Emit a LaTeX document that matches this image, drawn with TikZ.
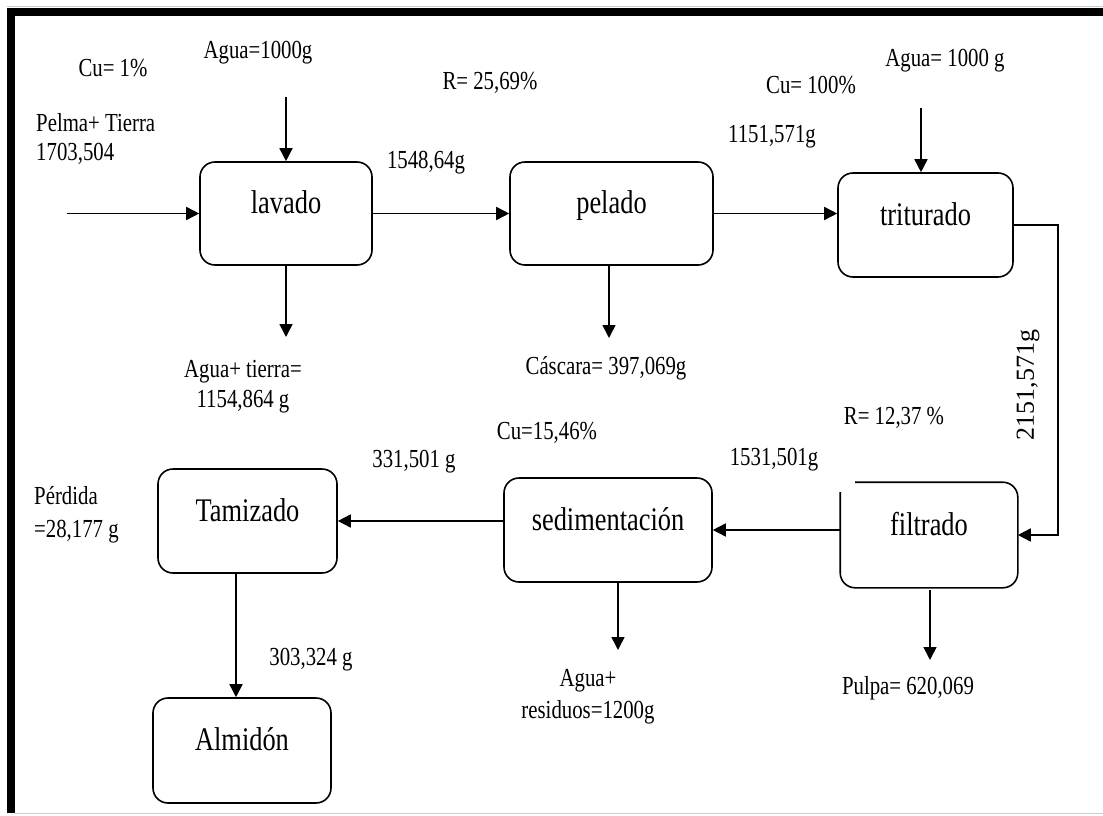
\documentclass[tikz,border=0pt]{standalone}
\usepackage{fontspec}
\usetikzlibrary{arrows.meta}
\newfontfamily\lblfont[FakeStretch=0.8]{Liberation Serif}
\newfontfamily\rotfont{Liberation Serif}
\begin{document}
\begin{tikzpicture}[x=1pt,y=-1pt,
  box/.style={draw, line width=1.6pt, rounded corners=15pt, font=\lblfont\fontsize{33}{36}\selectfont,
     text height=12pt, text depth=12pt, inner sep=0pt},
  lbl/.style={font=\lblfont\fontsize{26}{29}\selectfont, inner sep=0pt},
  arr/.style={-{Triangle[length=13pt,width=13pt]}, line width=1.6pt},
  ln/.style={line width=1.6pt}]
\useasboundingbox (0,0) rectangle (1103,816);
% frame
\fill[black] (7,8) rectangle (1103,16);
\fill[black] (7,8) rectangle (15,813);
\draw[gray!40, line width=1pt] (7,7) -- (1103,7);
\draw[gray!40, line width=1pt] (15,813) -- (1103,813);
% boxes
\node[box, minimum width=172pt, minimum height=103pt] (lav) at (286,213.5) {lavado};
\node[box, minimum width=203pt, minimum height=103pt] (pel) at (611.5,213.5) {pelado};
\node[box, minimum width=175pt, minimum height=104pt] (tri) at (925.5,225) {triturado};
\node[box, draw=none, minimum width=176pt, minimum height=104pt] (fil) at (929,535) {filtrado};
\draw[ln, rounded corners=15pt] ([xshift=15pt]fil.north west) -- (fil.north east) -- (fil.south east) -- (fil.south west) -- ([yshift=-10pt]fil.north west);
\node[box, minimum width=208pt, minimum height=104pt] (sed) at (608,530) {sedimentación};
\node[box, minimum width=179pt, minimum height=104pt] (tam) at (247.5,521) {Tamizado};
\node[box, minimum width=178pt, minimum height=105pt] (alm) at (242,750.5) {Almidón};
% coordinates
\coordinate (inl) at (67,213.5);
\coordinate (agua1) at (286,97);
\coordinate (out1) at (286,337);
\coordinate (pelb) at (609,265);
\coordinate (out2) at (609,338);
\coordinate (agua2) at (921,108);
\coordinate (tr) at (1058,225);
\coordinate (filb) at (930,590);
\coordinate (out3) at (930,660);
\coordinate (sedb) at (618,582);
\coordinate (out4) at (618,650);
\coordinate (tamb) at (236,573);
% connectors
\draw[arr] (inl) -- (lav.west);
\draw[arr] (agua1) -- (lav.north);
\draw[arr] (lav.east) -- (pel.west);
\draw[arr] (lav.south) -- (out1);
\draw[arr] (pelb) -- (out2);
\draw[arr] (pel.east) -- (pel.east -| tri.west);
\draw[arr] (agua2) -- (agua2 |- tri.north);
\draw[arr] (tri.east) -- (tr) |- (fil.east);
\draw[arr] (fil.west |- sed.east) -- (sed.east);
\draw[arr] (filb) -- (out3);
\draw[arr] (sed.west |- tam.east) -- (tam.east);
\draw[arr] (sedb) -- (out4);
\draw[arr] (tamb) -- (tamb |- alm.north);
% labels
\node[lbl] (l1) at (113,68) {Cu= 1\%};
\node[lbl] (l2) at (258,53) {Agua=1000g};
\node[lbl, align=left, anchor=west] (l3) at (36,139) {Pelma+ Tierra\\1703,504};
\node[lbl] (l4) at (490,83) {R= 25,69\%};
\node[lbl] (l5) at (426,163) {1548,64g};
\node[lbl] (l6) at (606,368) {Cáscara= 397,069g};
\node[lbl, align=center, font=\lblfont\fontsize{26}{30}\selectfont] (l7) at (243,387) {Agua+ tierra=\\1154,864 g};
\node[lbl] (l8) at (811,85) {Cu= 100\%};
\node[lbl] (l9) at (945,61) {Agua= 1000 g};
\node[lbl] (l10) at (772,137) {1151,571g};
\node[inner sep=0pt, font=\rotfont\fontsize{26}{29}\selectfont, rotate=90] (l11) at (1028,385) {2151,571g};
\node[lbl] (l12) at (894,418) {R= 12,37 \%};
\node[lbl] (l13) at (774,460) {1531,501g};
\node[lbl] (l14) at (547,433) {Cu=15,46\%};
\node[lbl] (l15) at (414,462) {331,501 g};
\node[lbl, align=left, anchor=west, font=\lblfont\fontsize{26}{33}\selectfont] (l16) at (34,515) {Pérdida\\=28,177 g};
\node[lbl] (l17) at (311,660) {303,324 g};
\node[lbl, align=center, font=\lblfont\fontsize{26}{32}\selectfont] (l18) at (588,697) {Agua+\\residuos=1200g};
\node[lbl] (l19) at (908,688) {Pulpa= 620,069};
\end{tikzpicture}
\end{document}
